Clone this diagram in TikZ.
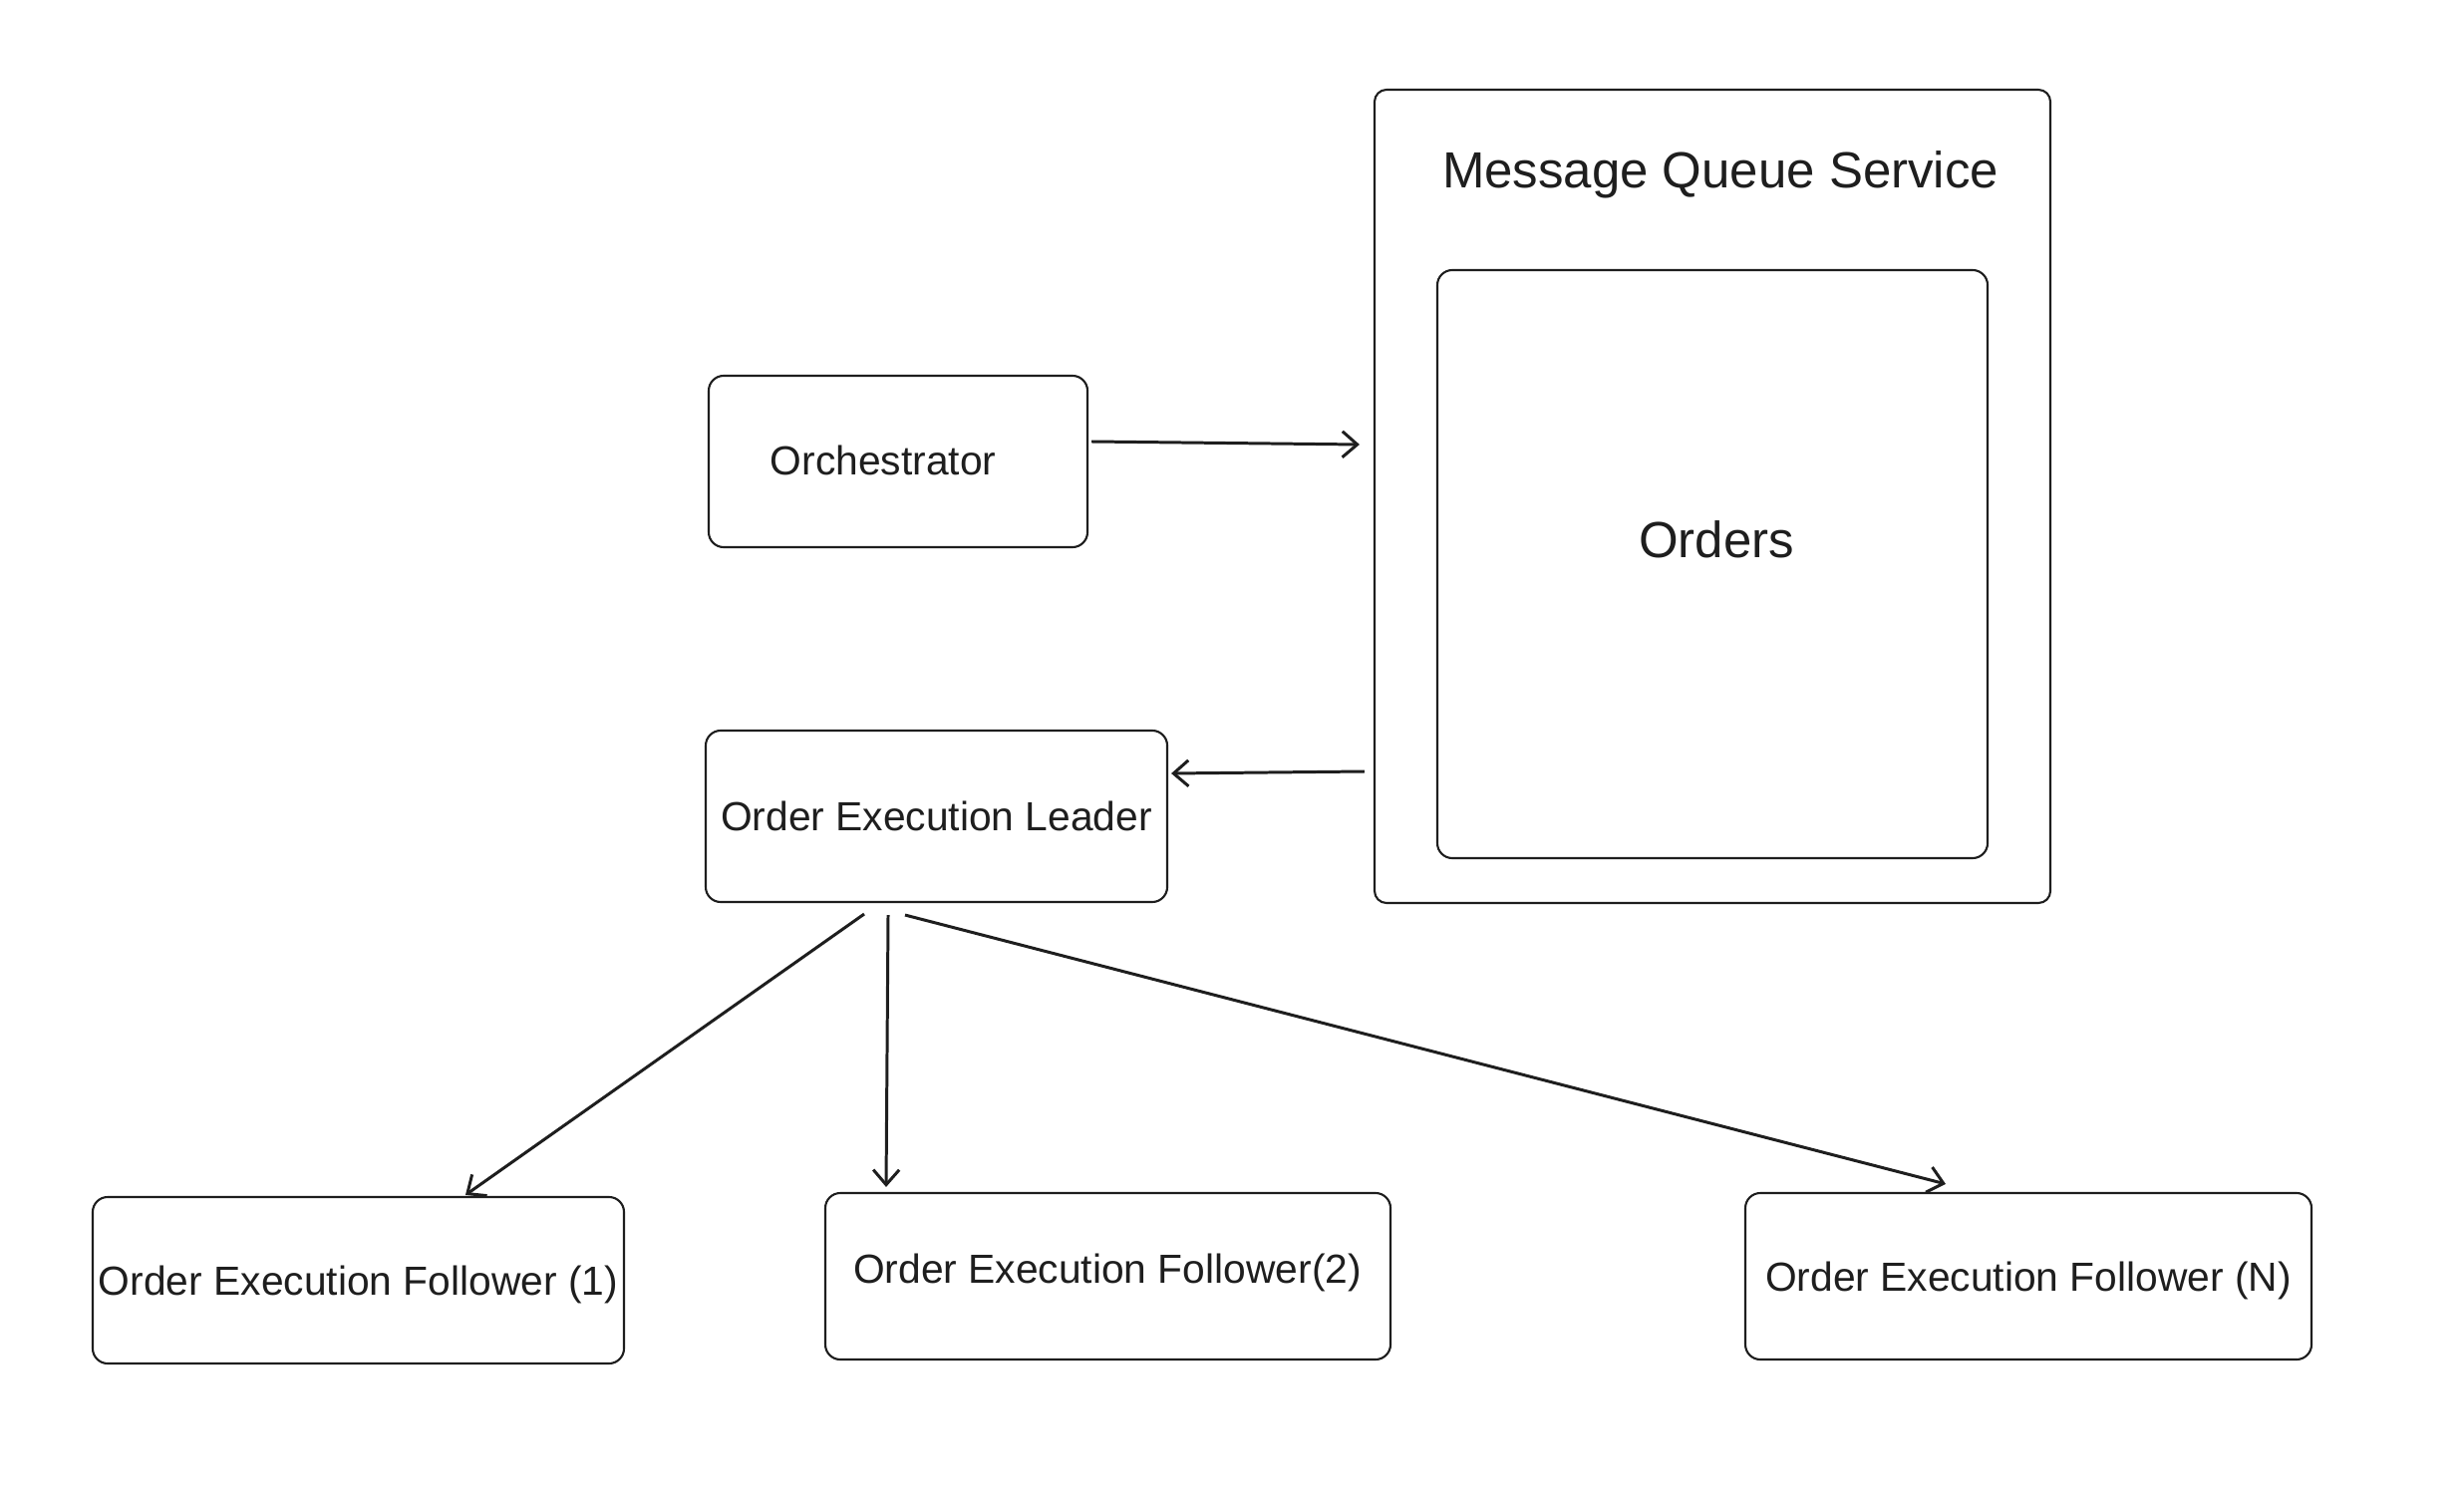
\documentclass[tikz,border=0pt]{standalone}
\usepackage{fontspec}
\setmainfont{Liberation Sans}
\usetikzlibrary{arrows.meta, positioning, calc}

\definecolor{ink}{HTML}{1E1E1E}
\tikzset{
    box/.style={draw=ink, line width=0.6pt, rounded corners=1.5mm, inner sep=0pt, text=ink,
        text depth=0pt, font=\fontsize{11.6}{14}\selectfont},
    arr/.style={-{Straight Barb[length=1.5mm,width=2.6mm]}, draw=ink, line width=0.85pt},
}

\begin{document}
\begin{tikzpicture}
                \useasboundingbox (0,0) rectangle (24.72,15.12);

                % Message queue
                \node[box, rounded corners=1.2mm, minimum width=6.78cm, minimum height=8.16cm] (mq) at (17.18,10.14) {};
                \node[text=ink, font=\fontsize{14.5}{17}\selectfont] (mqtitle) at (17.26,13.37) {Message Queue Service};
                \node[box, minimum width=5.52cm, minimum height=5.90cm] (orders) at (17.18,9.46) {};
                \node[text=ink, font=\fontsize{14.5}{17}\selectfont] (orderstxt) at (17.22,9.71) {Orders};

                % Orchestrator and leader
                \node[box, minimum width=3.80cm, minimum height=1.72cm] (orch) at (9.01,10.49) {};
                \node[text=ink, font=\fontsize{11.6}{14}\selectfont] (orchtxt) at (8.86,10.50) {Orchestrator};
                \node[box, minimum width=4.63cm, minimum height=1.72cm] (leader) at (9.395,6.93) {Order Execution Leader};

                % Followers
                \node[box, minimum width=5.33cm, minimum height=1.67cm] (fone) at (3.595,2.275) {Order Execution Follower (1)};
                \node[box, minimum width=5.67cm, minimum height=1.67cm] (ftwo) at (11.115,2.315) {};
                \node[text=ink, font=\fontsize{11.6}{14}\selectfont] (ftwotxt) at (11.11,2.35) {Order Execution Follower(2)};
                \node[box, minimum width=5.68cm, minimum height=1.67cm] (fn) at (20.35,2.315) {Order Execution Follower (N)};

                % Orders flow
                \draw[arr] ($(orch.east)+(0.03,0.20)$) -- ($(orch.east -| mq.west)+(-0.14,0.17)$);
                \draw[arr] ($(leader.east -| mq.west)+(-0.09,0.45)$) -- ($(leader.east)+(0.03,0.43)$);

                % Leader dispatch
                \draw[arr] ($(leader.south)+(-0.725,-0.11)$) -- ($(fone.north)+(1.075,0.01)$);
                \draw[arr] ($(leader.south)+(-0.485,-0.12)$) -- ($(ftwo.north)+(-2.225,0.05)$);
                \draw[arr] ($(leader.south)+(-0.315,-0.12)$) -- ($(fn.north)+(-0.83,0.08)$);
            \end{tikzpicture}
\end{document}
